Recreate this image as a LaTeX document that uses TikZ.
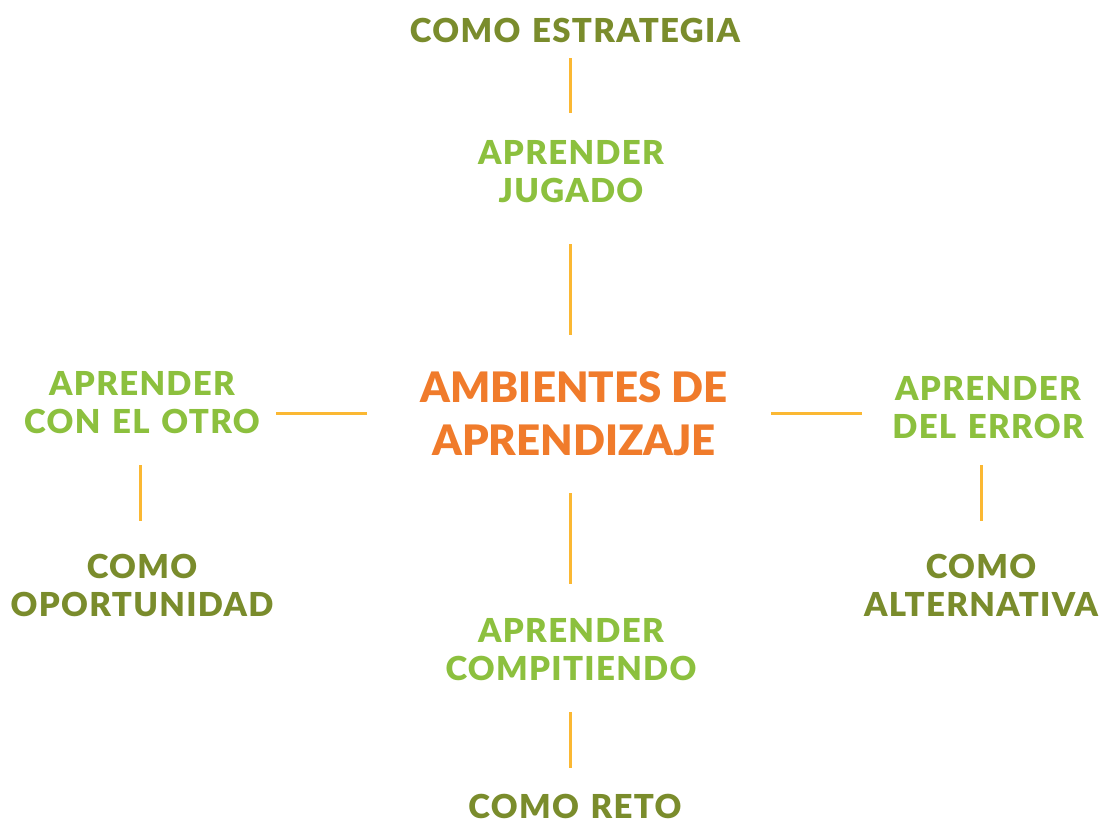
\documentclass[tikz,border=0pt]{standalone}
\usepackage{fontspec}
\setmainfont{Lato}[BoldFont={* Black}]
\newfontfamily\labelfont{Lato}[BoldFont={* Black}, LetterSpace=4, WordSpace=1.3]
\usetikzlibrary{calc}
\definecolor{olive}{HTML}{7A8C2C}
\definecolor{lgreen}{HTML}{8CC03E}
\definecolor{orng}{HTML}{F07B2B}
\definecolor{ylw}{HTML}{FBB833}
\tikzset{
  dark/.style={text=olive, font=\labelfont\fontsize{33}{38}\selectfont\bfseries, align=center, inner sep=0pt},
  light/.style={text=lgreen, font=\labelfont\fontsize{33}{38}\selectfont\bfseries, align=center, inner sep=0pt},
  mainbox/.style={text=orng, font=\fontsize{42}{53}\selectfont\bfseries, align=center, inner sep=0pt},
  conn/.style={draw=ylw, line width=3pt}
}
\begin{document}
\begin{tikzpicture}[x=1pt,y=-1pt]
\useasboundingbox (0,0) rectangle (1104,823);
\node[dark] (est) at (575,30) {COMO ESTRATEGIA};
\node[light] (jug) at (571,171.5) {APRENDER\\JUGADO};
\node[mainbox] (amb) at (574,413.5) {AMBIENTES DE\\APRENDIZAJE};
\node[light] (comp) at (571,649.5) {APRENDER\\COMPITIENDO};
\node[dark] (reto) at (575,806) {COMO RETO};
\node[light] (otro) at (142,403) {APRENDER\\CON EL OTRO};
\node[dark] (opo) at (142,585) {COMO\\OPORTUNIDAD};
\node[light] (err) at (988,408) {APRENDER\\DEL ERROR};
\node[dark] (alt) at (981,585) {COMO\\ALTERNATIVA};
\draw[conn] ($(est.center)+(-5,28)$) -- ($(jug.center)+(-1,-58.5)$);
\draw[conn] ($(jug.center)+(-1,72.5)$) -- ($(amb.center)+(-4,-78.5)$);
\draw[conn] ($(amb.center)+(-4,79.5)$) -- ($(comp.center)+(-1,-65.5)$);
\draw[conn] ($(comp.center)+(-1,62.5)$) -- ($(reto.center)+(-5,-38)$);
\draw[conn] ($(amb.center)+(-207,0)$) -- ($(otro.center)+(134,10.5)$);
\draw[conn] ($(amb.center)+(197,0)$) -- ($(err.center)+(-126,5.5)$);
\draw[conn] ($(otro.center)+(-2,62)$) -- ($(opo.center)+(-2,-64)$);
\draw[conn] ($(err.center)+(-7,57)$) -- ($(alt.center)+(0,-64)$);
\end{tikzpicture}
\end{document}
